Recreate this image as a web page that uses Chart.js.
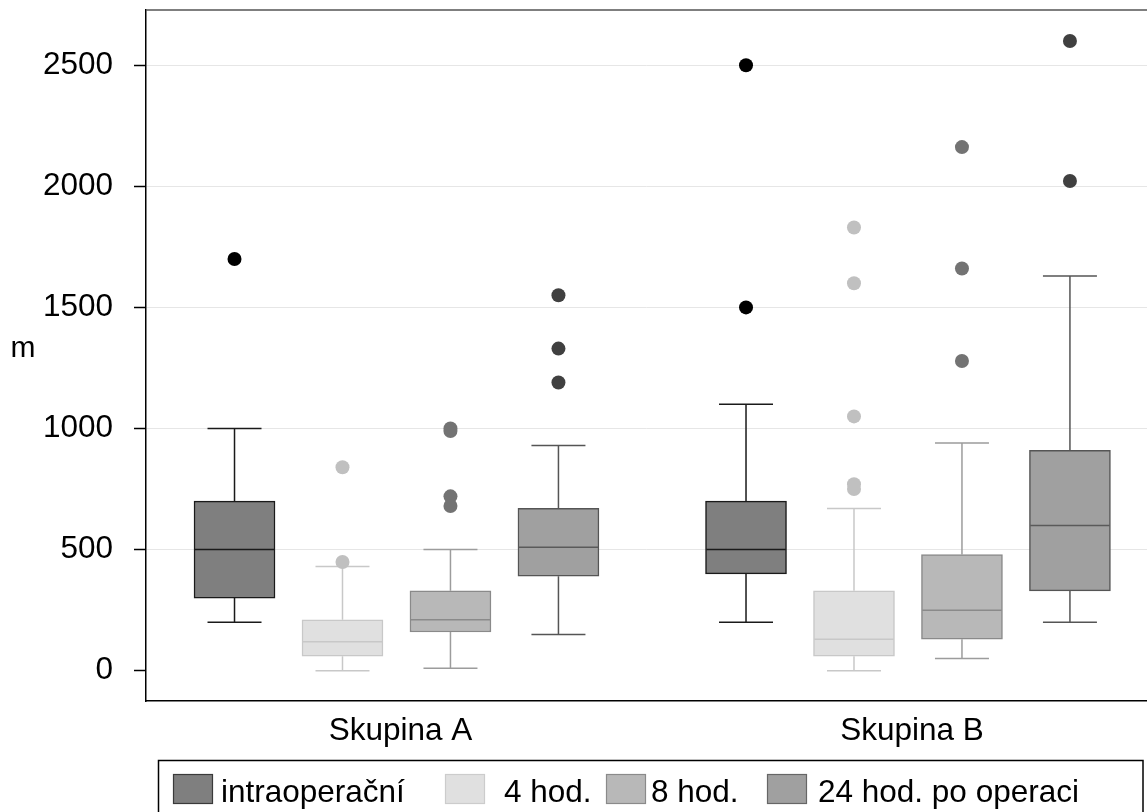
<!DOCTYPE html>
<html><head><meta charset="utf-8">
<script src="https://cdn.jsdelivr.net/npm/chart.js@4.4.1/dist/chart.umd.min.js"></script>
<style>html,body{margin:0;padding:0;background:#fff;overflow:hidden;} #wrap{width:1147px;height:812px;position:relative;}</style>
</head><body><div id="wrap"><canvas id="c" width="1147" height="812"></canvas></div>
<script>
// ---------------- data ----------------
const groups = ['Skupina A', 'Skupina B'];
const seriesNames = ['intraoperační', '4 hod.', '8 hod.', '24 hod. po operaci'];
// [series][group]
const lowerWhisker = [[200, 200], [0, 0], [10, 50], [150, 200]];
const q1           = [[300, 400], [60, 60], [160, 130], [390, 330]];
const median       = [[500, 500], [120, 130], [210, 250], [510, 600]];
const q3           = [[700, 700], [210, 330], [330, 480], [670, 910]];
const upperWhisker = [[1000, 1100], [430, 670], [500, 940], [930, 1630]];
const outliers = [
  [[1700], [2500, 1500]],
  [[840, 449], [1830, 1600, 1050, 770, 750]],
  [[1000, 990, 720, 680], [2162, 1661, 1279]],
  [[1550, 1330, 1190], [2600, 2022]]
];
const yTicks = [0, 500, 1000, 1500, 2000, 2500];
const yAxisTitle = 'm';

// ---------------- styles ----------------
const FONT = "'Liberation Sans', Arial, Helvetica, sans-serif";
const FONT_SIZE = 31.5;
const fillColors    = ['#7f7f7f', '#e0e0e0', '#b8b8b8', '#a0a0a0'];
const borderColors  = ['#1a1a1a', '#c8c8c8', '#8a8a8a', '#555555'];
const whiskerColors = ['#1a1a1a', '#c8c8c8', '#9c9c9c', '#555555'];
const medianColors  = ['#1a1a1a', '#c8c8c8', '#8a8a8a', '#5a5a5a'];
const outlierColors = ['#000000', '#c0c0c0', '#737373', '#404040'];
const swatchBorders = ['#3a3a3a', '#cccccc', '#8a8a8a', '#666666'];
const SLOT = 0.2111;      // spacing between boxes inside a group (x units)
const LABEL_SHIFT = 0.008;
const BOX_PX = 81;
const CAP_PX = 54;
const X_MIN = -0.4897, X_MAX = 1.4673;
const Y_MIN = -125, Y_MAX = 2728;
const LEGEND = {left: 158.5, top: 760.5, right: 1143, swatchX: [173, 445, 606, 767],
  textX: [221, 504, 651, 818], swatchY: 774, swatchW: 40, swatchH: 30, baseline: 802};

function xPos(s, g) { return g + (s - 1.5) * SLOT; }

const datasets = [];
seriesNames.forEach((name, s) => {
  datasets.push({
    type: 'bar', label: name,
    data: groups.map((_, g) => ({x: xPos(s, g), y: [q1[s][g], q3[s][g]]})),
    backgroundColor: fillColors[s], borderColor: borderColors[s], borderWidth: 1.5,
    borderSkipped: false, barThickness: BOX_PX, grouped: false, order: 2
  });
});
seriesNames.forEach((name, s) => {
  const pts = [];
  groups.forEach((_, g) => outliers[s][g].forEach(v => pts.push({x: xPos(s, g), y: v})));
  datasets.push({
    type: 'scatter', label: name, data: pts, pointRadius: 7, pointHoverRadius: 7,
    pointBackgroundColor: outlierColors[s], pointBorderWidth: 0, order: 1
  });
});

const boxExtras = {
  id: 'boxExtras',
  beforeDatasetsDraw(chart) {
    const {ctx, scales: {x, y}} = chart;
    ctx.save();
    ctx.lineWidth = 1.5;
    seriesNames.forEach((_, s) => groups.forEach((__, g) => {
      const cx = x.getPixelForValue(xPos(s, g));
      const yLo = y.getPixelForValue(lowerWhisker[s][g]);
      const yQ1 = y.getPixelForValue(q1[s][g]);
      const yQ3 = y.getPixelForValue(q3[s][g]);
      const yHi = y.getPixelForValue(upperWhisker[s][g]);
      ctx.strokeStyle = whiskerColors[s];
      ctx.beginPath();
      ctx.moveTo(cx, yQ1); ctx.lineTo(cx, yLo);
      ctx.moveTo(cx, yQ3); ctx.lineTo(cx, yHi);
      ctx.moveTo(cx - CAP_PX / 2, yLo); ctx.lineTo(cx + CAP_PX / 2, yLo);
      ctx.moveTo(cx - CAP_PX / 2, yHi); ctx.lineTo(cx + CAP_PX / 2, yHi);
      ctx.stroke();
    }));
    ctx.restore();
  },
  afterDatasetDraw(chart, args) {
    const s = args.index;
    if (s >= seriesNames.length) return;
    const {ctx, scales: {x, y}} = chart;
    ctx.save();
    ctx.lineWidth = 1.5;
    ctx.strokeStyle = medianColors[s];
    groups.forEach((_, g) => {
      const cx = x.getPixelForValue(xPos(s, g));
      const ym = y.getPixelForValue(median[s][g]);
      ctx.beginPath();
      ctx.moveTo(cx - BOX_PX / 2 + 0.75, ym); ctx.lineTo(cx + BOX_PX / 2 - 0.75, ym);
      ctx.stroke();
    });
    ctx.restore();
  },
  afterDraw(chart) {
    const {ctx, chartArea} = chart;
    ctx.save();
    // top frame line
    ctx.strokeStyle = '#555555'; ctx.lineWidth = 1.5;
    ctx.beginPath(); ctx.moveTo(chartArea.left, chartArea.top); ctx.lineTo(chart.width, chartArea.top); ctx.stroke();
    // y axis title
    ctx.fillStyle = '#000'; ctx.font = `30px ${FONT}`;
    ctx.textAlign = 'center'; ctx.textBaseline = 'alphabetic';
    ctx.fillText(yAxisTitle, 23, 357);
    // legend
    ctx.strokeStyle = '#000'; ctx.lineWidth = 1.5;
    ctx.strokeRect(LEGEND.left, LEGEND.top, LEGEND.right - LEGEND.left, chart.height - LEGEND.top + 10);
    ctx.font = `${FONT_SIZE}px ${FONT}`; ctx.textAlign = 'left';
    seriesNames.forEach((name, s) => {
      ctx.fillStyle = fillColors[s];
      ctx.fillRect(LEGEND.swatchX[s], LEGEND.swatchY, LEGEND.swatchW, LEGEND.swatchH);
      ctx.strokeStyle = swatchBorders[s]; ctx.lineWidth = 1.2;
      ctx.strokeRect(LEGEND.swatchX[s] + 0.5, LEGEND.swatchY + 0.5, LEGEND.swatchW - 1, LEGEND.swatchH - 1);
      ctx.fillStyle = '#000';
      ctx.fillText(name, LEGEND.textX[s], LEGEND.baseline);
    });
    ctx.restore();
  }
};

Chart.defaults.font.family = FONT;
Chart.defaults.font.size = FONT_SIZE;
Chart.defaults.color = '#000';

new Chart(document.getElementById('c'), {
  type: 'bar',
  data: {datasets},
  options: {
    responsive: false, animation: false, devicePixelRatio: 1,
    layout: {autoPadding: false, padding: {left: 0, top: 10, right: 0, bottom: 0}},
    plugins: {legend: {display: false}, tooltip: {enabled: false}},
    scales: {
      x: {
        type: 'linear', min: X_MIN, max: X_MAX, offset: false,
        grid: {display: false, drawTicks: false},
        border: {display: true, color: '#000', width: 1.5},
        ticks: {padding: 11, font: {size: FONT_SIZE}, callback: (v, i) => groups[i]},
        afterBuildTicks: (sc) => { sc.ticks = groups.map((_, g) => ({value: g + LABEL_SHIFT})); },
        afterFit: (sc) => { sc.height = 111; sc.paddingLeft = 0; sc.paddingRight = 0; }
      },
      y: {
        type: 'linear', min: Y_MIN, max: Y_MAX,
        grid: {color: (c) => (c.tick && c.tick.value === 0) ? 'rgba(0,0,0,0)' : '#e6e6e6',
               lineWidth: 1, drawTicks: true, tickLength: 12, tickColor: '#000', tickWidth: 1.5},
        border: {display: true, color: '#000', width: 1.5},
        ticks: {padding: 21, font: {size: FONT_SIZE}, callback: (v) => String(v)},
        afterBuildTicks: (sc) => { sc.ticks = yTicks.map(v => ({value: v})); },
        afterFit: (sc) => { sc.width = 146; sc.paddingTop = 0; sc.paddingBottom = 0; }
      }
    }
  },
  plugins: [boxExtras]
});
</script></body></html>
